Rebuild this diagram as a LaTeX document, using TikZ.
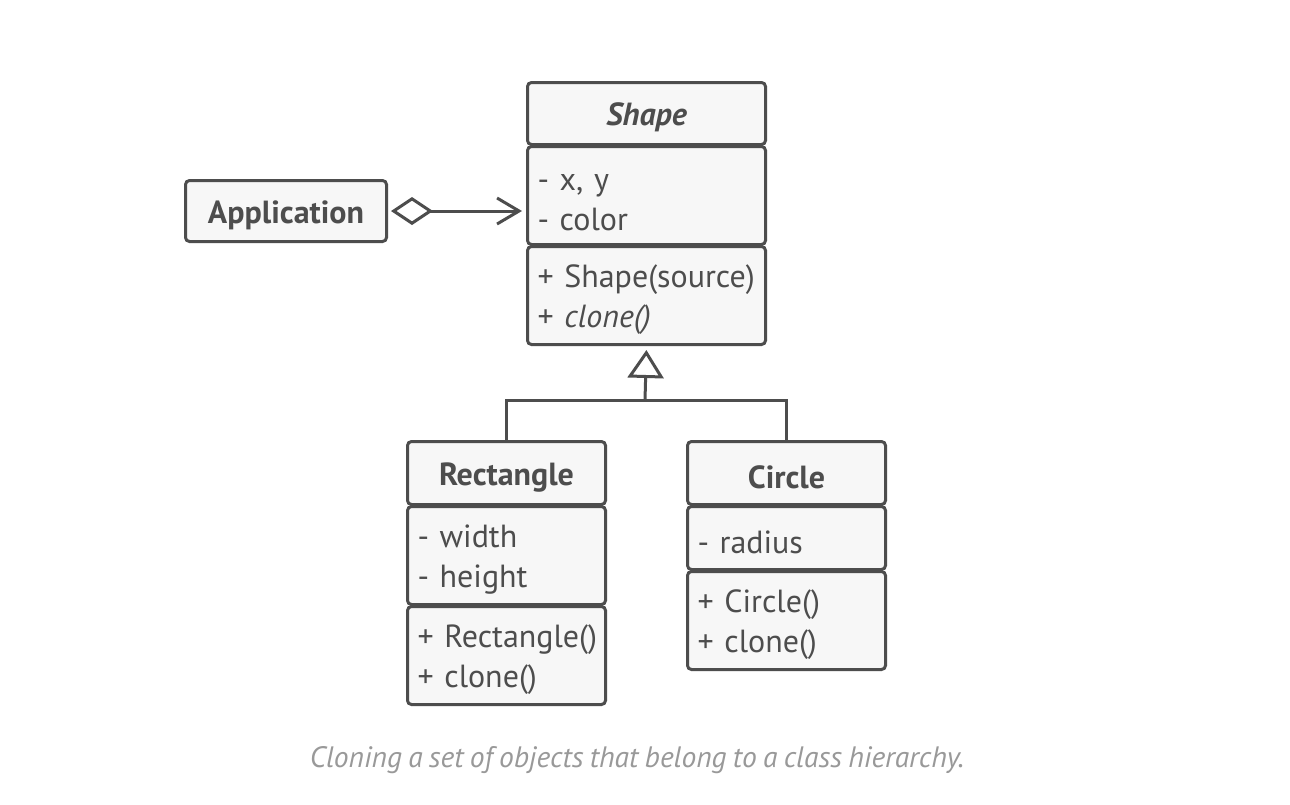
\documentclass[tikz,border=0pt]{standalone}
\usepackage{fontspec}
\setmainfont{PT Sans}[WordSpace=0.8]
\usepackage{xcolor}
\usepackage{tikz}
\usetikzlibrary{arrows.meta, positioning}
\hyphenpenalty=10000
\exhyphenpenalty=10000
\definecolor{umlline}{HTML}{4D4D4D}
\definecolor{umlfill}{HTML}{F7F7F7}
\definecolor{capgray}{HTML}{999999}
\tikzstyle{compart} = [rectangle, rounded corners=4pt, draw=umlline, line width=3pt, fill=umlfill, text=umlline, anchor=north west, inner xsep=10pt, inner ysep=0pt, align=left, font=\fontsize{32}{40}\selectfont, execute at begin node={\rule{0pt}{31pt}}]
\tikzstyle{classname} = [compart, align=center, font=\fontsize{32}{40}\selectfont\bfseries]
\tikzstyle{link} = [draw=umlline, line width=3pt]
\tikzstyle{caption} = [text=capgray, font=\fontsize{29.5}{32}\selectfont\itshape]

\begin{document}
\begin{tikzpicture}[x=1pt, y=-1pt]
    \useasboundingbox[fill=white] (0,0) rectangle (1290,804);
    % Shape
    \node (shapetitle) [classname, text width=218pt, minimum height=62pt] at (526,81) {\itshape Shape};
    \node (shapeattr) [compart, text width=218pt, minimum height=98pt] at (526,145) {- x, y\\- color};
    \node (shapemeth) [compart, text width=218pt, minimum height=98pt] at (526,245) {+ Shape(source)\\+ \textit{clone()}};
    % Application
    \node (app) [classname, anchor=center, text width=181pt, minimum height=61pt] at (286,211) {Application};
    % Rectangle
    \node (recttitle) [classname, text width=178pt, minimum height=63pt] at (406,440) {Rectangle};
    \node (rectattr) [compart, text width=178pt, minimum height=98pt] at (406,505) {- width\\- height};
    \node (rectmeth) [compart, text width=178pt, minimum height=98pt] at (406,605) {+~Rectangle()\\+ clone()};
    % Circle
    \node (circtitle) [classname, text width=178pt, minimum height=63pt] at (686,440) {Circle};
    \node (circattr) [compart, text width=178pt, minimum height=63pt] at (686,505) {- radius};
    \node (circmeth) [compart, text width=178pt, minimum height=98pt] at (686,570) {+ Circle()\\+ clone()};

    \node (cap) [caption] at (637,760) {Cloning a set of objects that belong to a class hierarchy.};

    \coordinate (join) at (645,400);
    \draw [link, {Diamond[open, length=42pt, width=28pt, line width=3pt]}-{Straight Barb[length=22pt, width=26pt, line width=3pt]}, shorten <=3pt, shorten >=4pt] (app.east) -- (app.east -| shapeattr.west);
    \draw [link] (recttitle.north) |- (join) -| (circtitle.north);
    \draw [link, -{Triangle[open, length=28pt, width=36pt, line width=3pt]}, shorten >=4pt] (join) -- (shapemeth.south);
\end{tikzpicture}
\end{document}
